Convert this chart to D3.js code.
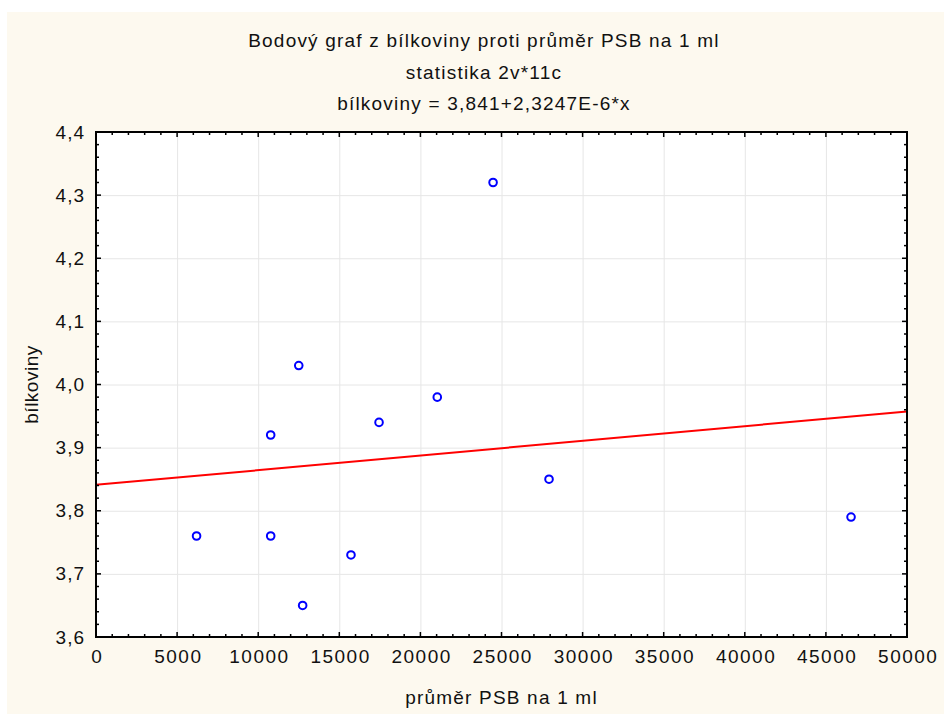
<!DOCTYPE html>
<html>
<head>
<meta charset="utf-8">
<script src="https://cdn.jsdelivr.net/npm/d3@7"></script>
<style>
  body { margin: 0; background: #ffffff; }
  text { font-family: "Liberation Sans", Arial, sans-serif; fill: #111; }
</style>
</head>
<body>
<div id="chart"></div>
<script>
// data
var psb = [6200, 10770, 10770, 12500, 12740, 15720, 17450, 21040, 24480, 27930, 46550];
var bilkoviny = [3.76, 3.92, 3.76, 4.03, 3.65, 3.73, 3.94, 3.98, 4.32, 3.85, 3.79];
var intercept = 3.841;
var slope = 2.3247e-6;
var titles = ["Bodový graf z bílkoviny proti průměr PSB na 1 ml", "statistika 2v*11c", "bílkoviny = 3,841+2,3247E-6*x"];
var xTicks = [0, 5000, 10000, 15000, 20000, 25000, 30000, 35000, 40000, 45000, 50000];
var yTicks = [3.6, 3.7, 3.8, 3.9, 4.0, 4.1, 4.2, 4.3, 4.4];

var svgWidth = 944;
var svgHeight = 715;

var margin = { top: 132, left: 96, right: 37, bottom: 78 };
var chartWidth = svgWidth - margin.left - margin.right;
var chartHeight = svgHeight - margin.top - margin.bottom;

var svg = d3.select('#chart').append('svg').attr('width', svgWidth).attr('height', svgHeight);

// beige panel
svg.append('rect').attr('x', 7).attr('y', 12).attr('width', 937).attr('height', 702).attr('fill', '#fdf9ef');

// titles
svg.selectAll('.title')
    .data(titles)
    .enter()
    .append('text')
    .attr('class', 'title')
    .attr('x', 484)
    .attr('y', (d, i) => 47 + i * 31.5)
    .attr('text-anchor', 'middle')
    .style('font-size', '19px')
    .style('letter-spacing', '1.2px')
    .text(d => d);

var chartGroup = svg.append('g').attr('transform', `translate(${margin.left},${margin.top})`);

var xScale = d3.scaleLinear().domain([0, 50000]).range([0, chartWidth]);
var yScale = d3.scaleLinear().domain([3.6, 4.4]).range([chartHeight, 0]);

chartGroup.append('rect').attr('width', chartWidth).attr('height', chartHeight).attr('fill', '#fff');

// grid
chartGroup.append('g').attr('class', 'grid')
    .attr('transform', `translate(0,${chartHeight})`)
    .call(d3.axisBottom(xScale).tickValues(xTicks.slice(1, -1)).tickSize(-chartHeight).tickFormat(''))
    .call(g => g.select('.domain').remove())
    .selectAll('line').attr('stroke', '#e6e6e6');
chartGroup.append('g').attr('class', 'grid')
    .call(d3.axisLeft(yScale).tickValues(yTicks.slice(1, -1)).tickSize(-chartWidth).tickFormat(''))
    .call(g => g.select('.domain').remove())
    .selectAll('line').attr('stroke', '#e6e6e6');

// regression line
var line = d3.line().x(d => xScale(d)).y(d => yScale(intercept + slope * d));
chartGroup.append('path')
    .datum(xScale.domain())
    .attr('d', line)
    .attr('fill', 'none')
    .attr('stroke', '#ff0000')
    .attr('stroke-width', 2);

// points
chartGroup.selectAll('circle')
    .data(psb)
    .enter()
    .append('circle')
    .attr('cx', d => xScale(d))
    .attr('cy', (d, i) => yScale(bilkoviny[i]))
    .attr('r', 3.8)
    .attr('fill', 'none')
    .attr('stroke', '#0000ff')
    .attr('stroke-width', 2);

// ticks inside on all four sides
var xMinor = d3.range(0, 50001, 1000);
var yMinor = d3.range(0, 41).map(i => 3.6 + i * 0.02);
function tickLen(major) { return major ? 5 : 3; }
var isXMajor = v => v % 5000 === 0;
var isYMajor = v => Math.abs(Math.round(v * 10) - v * 10) < 1e-6;

chartGroup.append('g').selectAll('line').data(xMinor).enter().append('line')
    .attr('x1', d => xScale(d)).attr('x2', d => xScale(d))
    .attr('y1', chartHeight).attr('y2', d => chartHeight - tickLen(isXMajor(d)))
    .attr('stroke', '#000').attr('stroke-width', 1.5);
chartGroup.append('g').selectAll('line').data(xMinor).enter().append('line')
    .attr('x1', d => xScale(d)).attr('x2', d => xScale(d))
    .attr('y1', 0).attr('y2', d => tickLen(isXMajor(d)))
    .attr('stroke', '#000').attr('stroke-width', 1.5);
chartGroup.append('g').selectAll('line').data(yMinor).enter().append('line')
    .attr('y1', d => yScale(d)).attr('y2', d => yScale(d))
    .attr('x1', 0).attr('x2', d => tickLen(isYMajor(d)))
    .attr('stroke', '#000').attr('stroke-width', 1.5);
chartGroup.append('g').selectAll('line').data(yMinor).enter().append('line')
    .attr('y1', d => yScale(d)).attr('y2', d => yScale(d))
    .attr('x1', chartWidth).attr('x2', d => chartWidth - tickLen(isYMajor(d)))
    .attr('stroke', '#000').attr('stroke-width', 1.5);

// frame
chartGroup.append('rect').attr('width', chartWidth).attr('height', chartHeight)
    .attr('fill', 'none').attr('stroke', '#000').attr('stroke-width', 2);

// tick labels
var xAxis = chartGroup.append('g')
    .attr('transform', `translate(0,${chartHeight})`)
    .call(d3.axisBottom(xScale).tickValues(xTicks).tickSize(0).tickPadding(13).tickFormat(d3.format('d')));
xAxis.select('.domain').remove();
xAxis.selectAll('text').style('font-size', '19px').style('letter-spacing', '1.5px').attr('dx', '0.75px').attr('fill', '#111');

var yAxis = chartGroup.append('g')
    .call(d3.axisLeft(yScale).tickValues(yTicks).tickSize(0).tickPadding(11).tickFormat(d => d3.format('.1f')(d).replace('.', ',')));
yAxis.select('.domain').remove();
yAxis.selectAll('text').style('font-size', '19px').style('letter-spacing', '1px').attr('fill', '#111');

// axis labels
svg.append('text')
    .attr('x', margin.left + chartWidth / 2)
    .attr('y', 704)
    .attr('text-anchor', 'middle')
    .style('font-size', '19px')
    .style('letter-spacing', '1.2px')
    .text('průměr PSB na 1 ml');

svg.append('text')
    .attr('transform', `translate(38,${margin.top + chartHeight / 2}) rotate(-90)`)
    .attr('text-anchor', 'middle')
    .style('font-size', '19px')
    .style('letter-spacing', '0.5px')
    .text('bílkoviny');
</script>
</body>
</html>
